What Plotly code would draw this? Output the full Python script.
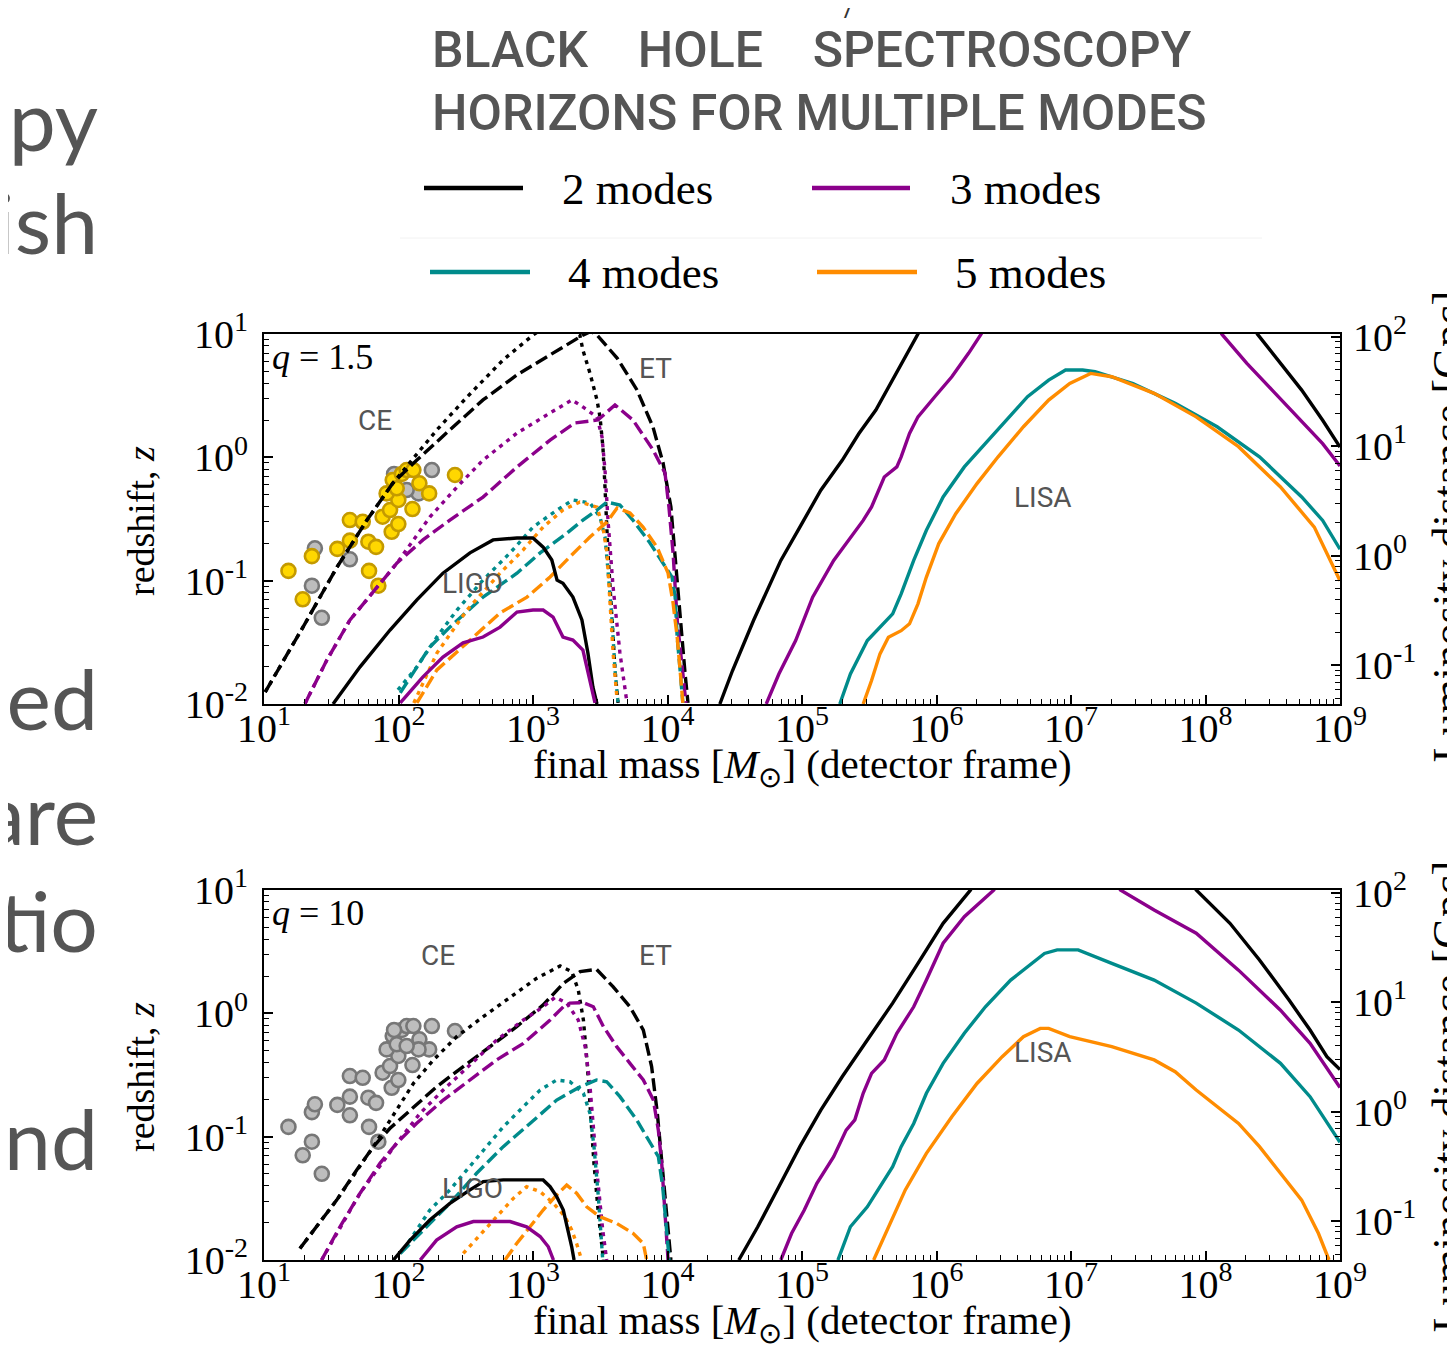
import plotly.graph_objects as go
import math

# ================= DATA =================
# ---- panel q = 1.5 : ground-based (ET dashed, CE dotted, LIGO solid) ----
p1_et2_m = [10.2, 19.5, 34.9, 58.3, 91, 137, 241, 425, 760, 1340, 2350, 2700, 2990, 4220, 5930, 7800, 9270, 10600, 11400, 12400, 13500, 14200]
p1_et2_z = [0.0125, 0.042, 0.129, 0.31, 0.62, 0.95, 1.67, 2.92, 4.66, 6.76, 9.8, 10.5, 9.8, 6.38, 3.52, 1.76, 0.90, 0.395, 0.147, 0.048, 0.0178, 0.0102]
p1_ce2_m = [10.2, 19.5, 34.9, 58.3, 91, 122, 193, 323, 598, 1000, 1460, 2230, 2350, 2650, 2990, 3150, 3310, 3430, 3610, 3870, 4070, 4290]
p1_ce2_z = [0.0125, 0.042, 0.129, 0.31, 0.62, 0.92, 1.67, 3.08, 6.15, 9.8, 13, 9.8, 7.4, 4.83, 2.92, 2.12, 1.21, 0.574, 0.168, 0.048, 0.0189, 0.0102]
p1_lg2_m = [32.6, 51.8, 86.5, 137, 214, 340, 505, 760, 1000, 1190, 1380, 1510, 1670, 1980, 2310, 2560, 2790, 2990]
p1_lg2_z = [0.01, 0.020, 0.0398, 0.0698, 0.115, 0.168, 0.214, 0.222, 0.222, 0.187, 0.147, 0.101, 0.0953, 0.0736, 0.048, 0.0259, 0.0137, 0.01]

p1_et3_m = [20.2, 29.4, 43.6, 69.2, 97.5, 152, 241, 425, 760, 1340, 2050, 3040, 4070, 5530, 7800, 9580, 10250, 11000, 11800, 13000, 13700]
p1_et3_z = [0.0101, 0.0228, 0.048, 0.089, 0.139, 0.214, 0.31, 0.476, 0.835, 1.38, 1.90, 2.01, 2.66, 2.01, 1.15, 0.746, 0.395, 0.168, 0.048, 0.0178, 0.0102]
p1_ce3_m = [20.2, 29.4, 43.6, 69.2, 97.5, 171, 272, 425, 760, 1340, 1950, 2350, 2990, 3260, 3430, 3610, 3940, 4430, 5000]
p1_ce3_z = [0.0101, 0.0228, 0.048, 0.089, 0.139, 0.328, 0.574, 0.95, 1.57, 2.29, 2.92, 2.56, 2.12, 1.46, 0.789, 0.31, 0.089, 0.0259, 0.0102]
p1_lg3_m = [103, 152, 214, 302, 425, 569, 760, 1000, 1190, 1410, 1670, 1980, 2350, 2650, 2890]
p1_lg3_z = [0.0102, 0.0166, 0.024, 0.0313, 0.0349, 0.042, 0.0557, 0.0578, 0.0578, 0.0507, 0.0349, 0.033, 0.0274, 0.0157, 0.0102]

p1_ce4_m = [99, 137, 193, 272, 425, 675, 1000, 1510, 1980, 2650, 3150, 3430, 3610, 3870, 4070, 4290]
p1_ce4_z = [0.013, 0.020, 0.0349, 0.0578, 0.101, 0.168, 0.272, 0.374, 0.451, 0.427, 0.328, 0.226, 0.122, 0.048, 0.0189, 0.0102]
p1_et4_m = [103, 171, 241, 425, 760, 1130, 1790, 2350, 2990, 3550, 4430, 5530, 7410, 9270, 10800, 11400, 11800, 12400, 13000]
p1_et4_z = [0.0123, 0.029, 0.042, 0.0736, 0.115, 0.168, 0.243, 0.31, 0.374, 0.434, 0.41, 0.31, 0.202, 0.139, 0.107, 0.0736, 0.0349, 0.0189, 0.0102]

p1_ce5_m = [130, 193, 323, 569, 843, 1190, 1670, 2230, 2990, 3310, 3550, 3740, 3940, 4220]
p1_ce5_z = [0.0102, 0.0259, 0.0578, 0.115, 0.177, 0.272, 0.374, 0.434, 0.395, 0.272, 0.168, 0.0659, 0.0259, 0.0108]
p1_et5_m = [137, 193, 323, 569, 902, 1340, 1880, 2650, 3550, 4220, 5260, 6580, 8360, 10100, 11000, 11800, 12400, 13000]
p1_et5_z = [0.0102, 0.0189, 0.0313, 0.0547, 0.0736, 0.107, 0.156, 0.226, 0.299, 0.388, 0.354, 0.272, 0.187, 0.115, 0.0659, 0.0349, 0.0189, 0.0102]

# ---- panel q = 1.5 : LISA (solid) ----
p1_ls2_m = [24500, 30400, 43600, 58200, 69600, 96400, 138000, 199000, 265000, 354000, 472000, 630000, 728000, 1.0e6, 1.8e8, 2.43e8, 3.61e8, 5.19e8, 7.43e8, 1e9]
p1_ls2_z = [0.01, 0.0186, 0.0475, 0.0944, 0.146, 0.272, 0.541, 0.946, 1.56, 2.42, 4.23, 7.41, 10.0, 20, 20, 10, 5.78, 3.51, 2.0, 1.21]
p1_ls3_m = [54200, 67300, 89700, 120000, 172000, 213000, 285000, 329000, 409000, 507000, 546000, 630000, 728000, 971000, 1.30e6, 1.73e6, 2.15e6, 2.8e6, 1.0e8, 1.32e8, 2.03e8, 3.13e8, 4.82e8, 7.43e8, 1e9]
p1_ls3_z = [0.01, 0.0175, 0.0327, 0.0734, 0.146, 0.20, 0.308, 0.396, 0.693, 0.836, 1.01, 1.56, 2.13, 3.10, 4.50, 6.97, 10, 20, 20, 10, 5.78, 3.51, 2.13, 1.29, 0.85]
p1_ls4_m = [191000, 229000, 306000, 380000, 472000, 546000, 677000, 841000, 1.12e6, 1.61e6, 2.31e6, 3.31e6, 4.75e6, 6.82e6, 9.11e6, 1.22e7, 1.51e7, 2.89e7, 5.95e7, 1.22e8, 2.52e8, 5.19e8, 7.43e8, 1e9]
p1_ls4_z = [0.01, 0.0175, 0.0327, 0.042, 0.0538, 0.0782, 0.146, 0.256, 0.477, 0.836, 1.29, 2.0, 3.10, 4.23, 5.11, 5.11, 4.94, 3.97, 2.74, 1.77, 1.01, 0.477, 0.308, 0.18]
p1_ls5_m = [285000, 329000, 380000, 439000, 546000, 630000, 728000, 841000, 1.04e6, 1.39e6, 2.00e6, 2.87e6, 4.43e6, 6.82e6, 9.79e6, 1.40e7, 2.01e7, 4.15e7, 8.53e7, 1.76e8, 3.61e8, 6.44e8, 1e9]
p1_ls5_z = [0.01, 0.0155, 0.0255, 0.0348, 0.0393, 0.0447, 0.0649, 0.107, 0.20, 0.349, 0.612, 1.01, 1.77, 2.91, 3.97, 4.79, 4.50, 3.30, 2.13, 1.22, 0.575, 0.272, 0.100]

# ---- panel q = 10 : ground-based ----
p2_et2_m = [18.5, 24.6, 34.7, 48.9, 65.0, 86.5, 122, 192, 303, 479, 756, 1190, 1680, 2240, 2970, 3950, 5260, 6610, 7620, 8400, 9100, 9860, 10600]
p2_et2_z = [0.0124, 0.0186, 0.0306, 0.0537, 0.083, 0.117, 0.164, 0.254, 0.370, 0.537, 0.780, 1.17, 1.75, 2.18, 2.27, 1.64, 1.13, 0.732, 0.370, 0.155, 0.0608, 0.0239, 0.01]
p2_ce2_m = [18.5, 34.7, 65.0, 91.6, 129, 182, 271, 427, 675, 1060, 1590, 1940, 2170, 2370, 2530, 2680, 2840, 3060, 3340]
p2_ce2_z = [0.0124, 0.0306, 0.083, 0.150, 0.270, 0.419, 0.647, 0.94, 1.36, 1.92, 2.42, 2.18, 1.55, 0.883, 0.393, 0.155, 0.0608, 0.0239, 0.01]
p2_lg2_m = [91.6, 122, 171, 241, 340, 427, 601, 1190, 1340, 1500, 1680, 1830, 1940, 2020]
p2_lg2_z = [0.01, 0.0145, 0.0211, 0.0288, 0.037, 0.0432, 0.0446, 0.0446, 0.0393, 0.0327, 0.0254, 0.0175, 0.0128, 0.01]

p2_et3_m = [26.8, 36.7, 51.8, 72.8, 96.8, 136, 215, 340, 537, 848, 1340, 1680, 1880, 2370, 2810, 3340, 4190, 5260, 6610, 7850, 8550, 9060, 9580, 10100]
p2_et3_z = [0.01, 0.0186, 0.0348, 0.0608, 0.0883, 0.128, 0.198, 0.288, 0.419, 0.571, 0.883, 1.13, 1.21, 1.22, 1.13, 0.780, 0.537, 0.393, 0.288, 0.198, 0.113, 0.0608, 0.0239, 0.01]
p2_ce3_m = [26.8, 51.8, 96.8, 145, 215, 340, 537, 848, 1190, 1460, 1780, 2170, 2440, 2630, 2810, 3030, 3300, 3530]
p2_ce3_z = [0.01, 0.0348, 0.0883, 0.155, 0.239, 0.381, 0.608, 0.883, 1.13, 1.35, 1.21, 0.883, 0.537, 0.288, 0.113, 0.0446, 0.0175, 0.01]
p2_lg3_m = [145, 192, 271, 360, 675, 897, 1130, 1300, 1420]
p2_lg3_z = [0.01, 0.0145, 0.0186, 0.0205, 0.0205, 0.0186, 0.0155, 0.0128, 0.01]

p2_ce4_m = [109, 171, 241, 427, 601, 848, 1130, 1500, 1880, 2370, 2650, 2840, 3060, 3300]
p2_ce4_z = [0.0121, 0.0254, 0.037, 0.078, 0.120, 0.175, 0.239, 0.288, 0.279, 0.225, 0.155, 0.083, 0.0327, 0.01]
p2_et4_m = [103, 153, 241, 381, 601, 950, 1500, 2240, 2970, 3530, 4430, 5900, 7410, 8550, 9210, 9750, 10300]
p2_et4_z = [0.0113, 0.0175, 0.0288, 0.0505, 0.083, 0.128, 0.198, 0.254, 0.288, 0.279, 0.211, 0.137, 0.0883, 0.0689, 0.0393, 0.0186, 0.01]

p2_ce5_m = [303, 404, 537, 714, 897, 1130, 1420, 1730, 1940, 2110, 2300]
p2_ce5_z = [0.0113, 0.016, 0.0224, 0.0316, 0.0393, 0.0358, 0.0288, 0.0224, 0.0175, 0.0136, 0.01]
p2_et5_m = [619, 756, 950, 1190, 1500, 1780, 2110, 2510, 3150, 4190, 5570, 6610, 7000]
p2_et5_z = [0.01, 0.0136, 0.0186, 0.0254, 0.0337, 0.0405, 0.0348, 0.027, 0.0224, 0.0198, 0.0164, 0.0136, 0.01]

# ---- panel q = 10 : LISA ----
p2_ls2_m = [33900, 46900, 67300, 96400, 138000, 199000, 306000, 472000, 728000, 1.12e6, 1.79e6, 2.5e6, 6e7, 8.53e7, 1.52e8, 2.52e8, 4.18e8, 5.99e8, 7.99e8, 1e9]
p2_ls2_z = [0.01, 0.0186, 0.0393, 0.083, 0.164, 0.306, 0.608, 1.21, 2.54, 5.37, 10, 20, 20, 10, 5.37, 2.71, 1.28, 0.732, 0.445, 0.35]
p2_ls3_m = [69600, 83600, 104000, 129000, 172000, 213000, 247000, 285000, 329000, 409000, 507000, 677000, 841000, 1.12e6, 1.61e6, 2.67e6, 3.5e6, 1.6e7, 2.33e7, 4.15e7, 8.53e7, 1.76e8, 3.61e8, 5.99e8, 1e9]
p2_ls3_z = [0.01, 0.0164, 0.0254, 0.0419, 0.0689, 0.113, 0.137, 0.225, 0.326, 0.419, 0.689, 1.13, 1.86, 3.70, 6.08, 10, 20, 20, 10, 6.88, 4.46, 2.24, 1.06, 0.571, 0.25]
p2_ls4_m = [185000, 229000, 306000, 380000, 472000, 546000, 677000, 841000, 1.12e6, 1.61e6, 2.31e6, 3.56e6, 4.75e6, 6.35e6, 7.89e6, 1.13e7, 2.01e7, 4.15e7, 8.53e7, 1.76e8, 3.61e8, 5.99e8, 1e9]
p2_ls4_z = [0.01, 0.0186, 0.027, 0.0393, 0.0572, 0.083, 0.128, 0.225, 0.393, 0.689, 1.13, 1.86, 2.39, 3.06, 3.27, 3.27, 2.54, 1.86, 1.21, 0.732, 0.393, 0.211, 0.09]
p2_ls5_m = [341000, 439000, 586000, 841000, 1.30e6, 2.00e6, 3.08e6, 4.43e6, 5.91e6, 6.82e6, 9.79e6, 2.01e7, 4.15e7, 5.95e7, 8.53e7, 1.76e8, 2.52e8, 3.61e8, 5.19e8, 6.92e8, 8.28e8]
p2_ls5_z = [0.01, 0.0186, 0.037, 0.0732, 0.145, 0.270, 0.445, 0.647, 0.755, 0.755, 0.647, 0.537, 0.419, 0.336, 0.239, 0.128, 0.083, 0.0505, 0.0306, 0.0164, 0.01]

# ---- observed events (final mass, redshift) ----
gold_m = [15.2, 22.7, 19.4, 35.1, 43.5, 54.2, 43.5, 59.7, 68.1, 60.4, 70.8, 76.2, 89.0, 99.7, 86.5, 99.7, 127, 81.6, 90.6, 106, 115, 129, 143, 169, 263, 97]
gold_z = [0.120, 0.158, 0.0706, 0.181, 0.31, 0.30, 0.211, 0.207, 0.188, 0.120, 0.091, 0.330, 0.249, 0.288, 0.374, 0.451, 0.381, 0.510, 0.655, 0.733, 0.789, 0.789, 0.616, 0.51, 0.719, 0.561]
grey_m = [23.9, 22.7, 26.9, 43.5, 92.7, 177, 141, 115]
grey_z = [0.183, 0.091, 0.050, 0.149, 0.733, 0.789, 0.51, 0.543]

legend_labels = ["2 modes", "3 modes", "4 modes", "5 modes"]
x_ticks = [1e1, 1e2, 1e3, 1e4, 1e5, 1e6, 1e7, 1e8, 1e9]
x_tick_text = ["10<sup>1</sup>", "10<sup>2</sup>", "10<sup>3</sup>", "10<sup>4</sup>", "10<sup>5</sup>",
               "10<sup>6</sup>", "10<sup>7</sup>", "10<sup>8</sup>", "10<sup>9</sup>"]
z_ticks = [1e-2, 1e-1, 1e0, 1e1]
z_tick_text = ["10<sup>-2</sup>", "10<sup>-1</sup>", "10<sup>0</sup>", "10<sup>1</sup>"]
dl_ticks = [1e-1, 1e0, 1e1, 1e2]
dl_tick_text = ["10<sup>-1</sup>", "10<sup>0</sup>", "10<sup>1</sup>", "10<sup>2</sup>"]
dl_range_gpc = [0.0443, 106]   # luminosity distance at z = 0.01 and z = 10

slide_words = ["ppy", "ish", ".", "ted", "are", "tio", "nd"]

# ================= STYLE =================
PAGE_OFF = 8                      # default body margin of the html page
W, H = 1455 - PAGE_OFF, 1370 - PAGE_OFF
BLACK, PURPLE, TEAL, ORANGE = "#000000", "#8B008B", "#008B8B", "#FF8C00"
GREY_TXT = "#555555"
SERIF = "Liberation Serif, Times New Roman, serif"
SANS = "Roboto, DejaVu Sans, sans-serif"
DASH = "13px,5px"
DOT = "4px,5px"
LW = 3.4


def px(x):          # page pixel -> paper fraction
    return (x - PAGE_OFF) / W


def py(y):
    return 1 - (y - PAGE_OFF) / H


fig = go.Figure()


def curve(m, z, color, dash, xa, ya):
    fig.add_trace(go.Scatter(x=m, y=z, mode="lines", xaxis=xa, yaxis=ya,
                             line=dict(color=color, width=LW, dash=dash),
                             showlegend=False, hoverinfo="skip"))


panels = [
    ("x", "y", dict(et=[p1_et2_m, p1_et2_z, p1_et3_m, p1_et3_z, p1_et4_m, p1_et4_z, p1_et5_m, p1_et5_z],
                    ce=[p1_ce2_m, p1_ce2_z, p1_ce3_m, p1_ce3_z, p1_ce4_m, p1_ce4_z, p1_ce5_m, p1_ce5_z],
                    lg=[p1_lg2_m, p1_lg2_z, p1_lg3_m, p1_lg3_z],
                    ls=[p1_ls2_m, p1_ls2_z, p1_ls3_m, p1_ls3_z, p1_ls4_m, p1_ls4_z, p1_ls5_m, p1_ls5_z])),
    ("x2", "y2", dict(et=[p2_et2_m, p2_et2_z, p2_et3_m, p2_et3_z, p2_et4_m, p2_et4_z, p2_et5_m, p2_et5_z],
                      ce=[p2_ce2_m, p2_ce2_z, p2_ce3_m, p2_ce3_z, p2_ce4_m, p2_ce4_z, p2_ce5_m, p2_ce5_z],
                      lg=[p2_lg2_m, p2_lg2_z, p2_lg3_m, p2_lg3_z],
                      ls=[p2_ls2_m, p2_ls2_z, p2_ls3_m, p2_ls3_z, p2_ls4_m, p2_ls4_z, p2_ls5_m, p2_ls5_z])),
]
colors = [BLACK, PURPLE, TEAL, ORANGE]
grey_marker = dict(size=14, color="#BDBDBD", line=dict(color="#777777", width=2.6))
gold_marker = dict(size=14, color="#FFD700", line=dict(color="#C49A00", width=2.6))

for i, (xa, ya, d) in enumerate(panels):
    if i == 0:
        fig.add_trace(go.Scatter(x=grey_m, y=grey_z, mode="markers", xaxis=xa, yaxis=ya,
                                 marker=grey_marker, showlegend=False, hoverinfo="skip"))
        fig.add_trace(go.Scatter(x=gold_m, y=gold_z, mode="markers", xaxis=xa, yaxis=ya,
                                 marker=gold_marker, showlegend=False, hoverinfo="skip"))
    else:
        fig.add_trace(go.Scatter(x=gold_m + grey_m, y=gold_z + grey_z, mode="markers", xaxis=xa, yaxis=ya,
                                 marker=grey_marker, showlegend=False, hoverinfo="skip"))
    for k in range(4):
        curve(d["ce"][2 * k], d["ce"][2 * k + 1], colors[k], DOT, xa, ya)
        curve(d["et"][2 * k], d["et"][2 * k + 1], colors[k], DASH, xa, ya)
        curve(d["ls"][2 * k], d["ls"][2 * k + 1], colors[k], "solid", xa, ya)
    for k in range(2):
        curve(d["lg"][2 * k], d["lg"][2 * k + 1], colors[k], "solid", xa, ya)

# dummy traces to activate the right-hand luminosity-distance axes
fig.add_trace(go.Scatter(x=[1e5], y=[1.0], xaxis="x", yaxis="y3", mode="markers",
                         marker=dict(opacity=0), showlegend=False, hoverinfo="skip"))
fig.add_trace(go.Scatter(x=[1e5], y=[1.0], xaxis="x2", yaxis="y4", mode="markers",
                         marker=dict(opacity=0), showlegend=False, hoverinfo="skip"))

# cut-off slide text on the left (text trace on a page-pixel overlay axis)
slide_x = [98, 98, 5, 98, 98, 98, 98]
slide_y = [130, 233, 576, 709, 824, 931, 1149]
fig.add_trace(go.Scatter(x=slide_x, y=slide_y, text=slide_words, mode="text", xaxis="x3", yaxis="y5",
                         textposition="middle left", cliponaxis=False,
                         textfont=dict(family="Lato, Open Sans, sans-serif", size=84, color=GREY_TXT),
                         showlegend=False, hoverinfo="skip"))
fig.add_trace(go.Scatter(x=[849], y=[10], text=["/"], mode="text", xaxis="x3", yaxis="y5",
                         textposition="middle center", cliponaxis=False,
                         textfont=dict(family=SANS, size=26, color="#333333"),
                         showlegend=False, hoverinfo="skip"))


def minor_vals(lo_exp, hi_exp, lo, hi):
    out = []
    for e in range(lo_exp, hi_exp + 1):
        for mlt in range(2, 10):
            v = mlt * 10 ** e
            if lo < v < hi:
                out.append(v)
    return out


tickfont = dict(family=SERIF, size=40, color="black")
minor_common = dict(tickmode="array", ticks="inside", ticklen=5, tickwidth=1.2, tickcolor="black")

xdom = [px(264), px(1340)]
ydom1 = [py(704), py(334)]
ydom2 = [py(1260), py(890)]


def xaxis_cfg(anchor):
    return dict(type="log", range=[1, 9], domain=xdom, anchor=anchor, showgrid=False, zeroline=False,
                showline=True, linecolor="black", linewidth=2, mirror=True,
                ticks="inside", ticklen=9, tickwidth=1.5, tickcolor="black",
                tickmode="array", tickvals=x_ticks, ticktext=x_tick_text, tickfont=tickfont,
                ticklabelstandoff=-12, automargin=False,
                minor=dict(tickvals=minor_vals(1, 8, 10, 1e9), **minor_common))


def yaxis_cfg(dom, anchor):
    return dict(type="log", range=[-2, 1], domain=dom, anchor=anchor, showgrid=False, zeroline=False,
                showline=True, linecolor="black", linewidth=2, mirror=True,
                ticks="inside", ticklen=9, tickwidth=1.5, tickcolor="black",
                tickmode="array", tickvals=z_ticks, ticktext=z_tick_text, tickfont=tickfont,
                ticklabelstandoff=6, automargin=False,
                minor=dict(tickvals=minor_vals(-2, 0, 0.01, 10), **minor_common))


def raxis_cfg(over, anchor):
    lo, hi = math.log10(dl_range_gpc[0]), math.log10(dl_range_gpc[1])
    return dict(type="log", range=[lo, hi], overlaying=over, side="right", anchor=anchor,
                showgrid=False, zeroline=False, showline=True, linecolor="black", linewidth=2,
                ticks="inside", ticklen=9, tickwidth=1.5, tickcolor="black",
                tickmode="array", tickvals=dl_ticks, ticktext=dl_tick_text, tickfont=tickfont,
                ticklabelstandoff=3, automargin=False,
                minor=dict(tickvals=minor_vals(-2, 2, dl_range_gpc[0], dl_range_gpc[1]), **minor_common))


annotations = []


def ann(text, x, y, size, family=SERIF, color="black", xanchor="center", yanchor="middle", angle=0, **kw):
    annotations.append(dict(text=text, x=px(x), y=py(y), xref="paper", yref="paper", showarrow=False,
                            xanchor=xanchor, yanchor=yanchor, textangle=angle,
                            font=dict(family=family, size=size, color=color, **kw)))


NB = "\u00a0"
# title
ann("BLACK" + NB * 4 + "HOLE" + NB * 4 + "SPECTROSCOPY", 430, 50, 50, SANS, GREY_TXT, xanchor="left", weight=500)
ann("HORIZONS FOR MULTIPLE MODES", 430, 113, 50, SANS, GREY_TXT, xanchor="left", weight=500)

# manual legend
leg = [(424, 523, 188, 560), (812, 910, 188, 948), (430, 530, 272, 566), (817, 917, 272, 953)]
shapes = []
for (x0, x1, yy, tx), c, lab in zip(leg, colors, legend_labels):
    shapes.append(dict(type="line", xref="paper", yref="paper", x0=px(x0), x1=px(x1), y0=py(yy), y1=py(yy),
                       line=dict(color=c, width=4.5)))
    ann(lab, tx, yy + 1, 45, SERIF, "black", xanchor="left")
shapes.append(dict(type="line", xref="paper", yref="paper", x0=px(400), x1=px(1262), y0=py(238), y1=py(238),
                   line=dict(color="#F2F2F2", width=1)))

# panel labels and axis titles
XTITLE = "final mass [<i>M</i><sub>⊙</sub>] (detector frame)"
for top, q, ce_xy, et_xy, ligo_xy, lisa_xy, dl_y in [
        (0, "1.5", (375, 420), (655, 368), (473, 583), (1043, 497), 527),
        (556, "10", (438, 955), (655, 955), (473, 1188), (1043, 1052), 1097)]:
    ann("<i>q</i> = " + q, 270, 357 + top, 36, SERIF, "black", xanchor="left")
    ann("CE", ce_xy[0], ce_xy[1], 28, SANS, GREY_TXT)
    ann("ET", et_xy[0], et_xy[1], 28, SANS, GREY_TXT)
    ann("LIGO", ligo_xy[0], ligo_xy[1], 28, SANS, GREY_TXT)
    ann("LISA", lisa_xy[0], lisa_xy[1], 28, SANS, GREY_TXT)
    ann(XTITLE, 802, 767 + top, 41, SERIF)
    ann("redshift, <i>z</i>", 141, 521 + top, 38, SERIF, angle=-90)
    ann("Luminosity distance [Gpc]", 1421, dl_y, 44, SERIF, xanchor="left", angle=-90)

fig.update_layout(
    width=W, height=H, margin=dict(l=0, r=0, t=0, b=0, autoexpand=False),
    paper_bgcolor="white", plot_bgcolor="rgba(0,0,0,0)", showlegend=False,
    xaxis=xaxis_cfg("y"), yaxis=yaxis_cfg(ydom1, "x"), yaxis3=raxis_cfg("y", "x"),
    xaxis2=xaxis_cfg("y2"), yaxis2=yaxis_cfg(ydom2, "x2"), yaxis4=raxis_cfg("y2", "x2"),
    xaxis3=dict(domain=[0, 1], range=[PAGE_OFF, PAGE_OFF + W], visible=False, anchor="y5", fixedrange=True),
    yaxis5=dict(domain=[0, 1], range=[PAGE_OFF + H, PAGE_OFF], visible=False, anchor="x3", fixedrange=True),
    annotations=annotations, shapes=shapes,
)

fig.write_html("out.html")
